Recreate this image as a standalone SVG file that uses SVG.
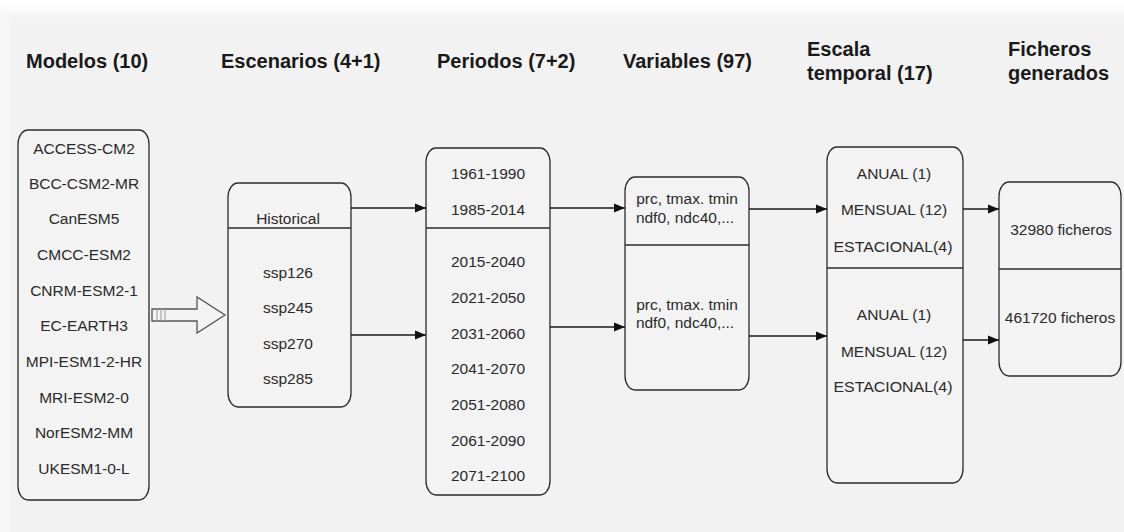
<svg xmlns="http://www.w3.org/2000/svg" width="1124" height="532" viewBox="0 0 1124 532">
  <defs>
    <linearGradient id="topFade" x1="0" y1="0" x2="0" y2="1">
      <stop offset="0" stop-color="#ffffff"/>
      <stop offset="0.6" stop-color="#fbfbfb"/>
      <stop offset="1" stop-color="#f2f2f2"/>
    </linearGradient>
    <marker id="arrow" markerUnits="userSpaceOnUse" markerWidth="11" markerHeight="10" refX="11" refY="5" orient="auto">
      <path d="M0,0.5 L11,5 L0,9.5 z" fill="#111"/>
    </marker>
    <style>
      .hdr { font-family: "Liberation Sans", Arial, sans-serif; font-weight: bold; font-size: 20px; fill: #1a1a1a; }
      .lbl { font-family: "Liberation Sans", Arial, sans-serif; font-size: 15.5px; fill: #2a2a2a; text-anchor: middle; }
      .box { fill: #f3f3f3; stroke: #2b2b2b; stroke-width: 1.3; }
      .div { stroke: #2b2b2b; stroke-width: 1.3; fill: none; }
      .edge { stroke: #1a1a1a; stroke-width: 1.3; fill: none; marker-end: url(#arrow); }
    </style>
  </defs>

  <!-- page background -->
  <rect x="0" y="0" width="1124" height="532" fill="#f2f2f2"/>
  <rect x="0" y="0" width="1124" height="18" fill="url(#topFade)"/>
  <rect x="0" y="14" width="11" height="518" fill="#f6f6f6"/>

  <!-- column headers -->
  <g id="headers">
    <text class="hdr" x="26" y="68">Modelos (10)</text>
    <text class="hdr" x="221" y="68">Escenarios (4+1)</text>
    <text class="hdr" x="437" y="68">Periodos (7+2)</text>
    <text class="hdr" x="623" y="68">Variables (97)</text>
    <text class="hdr" x="807" y="56">Escala</text>
    <text class="hdr" x="807" y="80">temporal (17)</text>
    <text class="hdr" x="1008" y="56">Ficheros</text>
    <text class="hdr" x="1008" y="80">generados</text>
  </g>

  <!-- models -->
  <g id="modelos">
    <rect class="box" x="18" y="130" width="131" height="370" rx="10" ry="14"/>
    <text class="lbl" x="84" y="154">ACCESS-CM2</text>
    <text class="lbl" x="84" y="189">BCC-CSM2-MR</text>
    <text class="lbl" x="84" y="224">CanESM5</text>
    <text class="lbl" x="84" y="260">CMCC-ESM2</text>
    <text class="lbl" x="84" y="296">CNRM-ESM2-1</text>
    <text class="lbl" x="84" y="331">EC-EARTH3</text>
    <text class="lbl" x="84" y="367">MPI-ESM1-2-HR</text>
    <text class="lbl" x="84" y="403">MRI-ESM2-0</text>
    <text class="lbl" x="84" y="438">NorESM2-MM</text>
    <text class="lbl" x="84" y="474">UKESM1-0-L</text>
  </g>

  <!-- hollow block arrow from models to scenarios -->
  <g id="flecha">
    <path d="M152,309 H197 V297 L225,315 L197,333 V321 H152 Z" fill="#f3f3f3" stroke="#555" stroke-width="1.3"/>
    <path d="M157,309 V321 M161,309 V321 M165,309 V321" stroke="#999" stroke-width="1"/>
  </g>

  <!-- scenarios -->
  <g id="escenarios">
    <rect class="box" x="228" y="183" width="123" height="224" rx="10" ry="14"/>
    <line class="div" x1="228" y1="228" x2="351" y2="228"/>
    <text class="lbl" x="288" y="224">Historical</text>
    <text class="lbl" x="288" y="278">ssp126</text>
    <text class="lbl" x="288" y="313">ssp245</text>
    <text class="lbl" x="288" y="349">ssp270</text>
    <text class="lbl" x="288" y="384">ssp285</text>
  </g>

  <!-- periods -->
  <g id="periodos">
    <rect class="box" x="426" y="148" width="124" height="347" rx="10" ry="14"/>
    <line class="div" x1="426" y1="228" x2="550" y2="228"/>
    <text class="lbl" x="488" y="179">1961-1990</text>
    <text class="lbl" x="488" y="215">1985-2014</text>
    <text class="lbl" x="488" y="267">2015-2040</text>
    <text class="lbl" x="488" y="303">2021-2050</text>
    <text class="lbl" x="488" y="339">2031-2060</text>
    <text class="lbl" x="488" y="374">2041-2070</text>
    <text class="lbl" x="488" y="410">2051-2080</text>
    <text class="lbl" x="488" y="446">2061-2090</text>
    <text class="lbl" x="488" y="481">2071-2100</text>
  </g>

  <!-- variables -->
  <g id="variables">
    <rect class="box" x="625" y="177" width="124" height="213" rx="10" ry="14"/>
    <line class="div" x1="625" y1="245" x2="749" y2="245"/>
    <text class="lbl" x="687" y="204">prc, tmax. tmin</text>
    <text class="lbl" x="685" y="223">ndf0, ndc40,...</text>
    <text class="lbl" x="687" y="310">prc, tmax. tmin</text>
    <text class="lbl" x="685" y="328">ndf0, ndc40,...</text>
  </g>

  <!-- time scale -->
  <g id="escala">
    <rect class="box" x="827" y="147" width="136" height="336" rx="10" ry="14"/>
    <line class="div" x1="827" y1="268" x2="963" y2="268"/>
    <text class="lbl" x="894" y="179">ANUAL (1)</text>
    <text class="lbl" x="894" y="215">MENSUAL (12)</text>
    <text class="lbl" x="893" y="252" textLength="119" lengthAdjust="spacingAndGlyphs">ESTACIONAL(4)</text>
    <text class="lbl" x="894" y="320">ANUAL (1)</text>
    <text class="lbl" x="894" y="357">MENSUAL (12)</text>
    <text class="lbl" x="893" y="392" textLength="119" lengthAdjust="spacingAndGlyphs">ESTACIONAL(4)</text>
  </g>

  <!-- generated files -->
  <g id="ficheros">
    <rect class="box" x="999" y="182" width="122" height="194" rx="10" ry="14"/>
    <line class="div" x1="999" y1="269" x2="1121" y2="269"/>
    <text class="lbl" x="1061" y="235">32980 ficheros</text>
    <text class="lbl" x="1060" y="323">461720 ficheros</text>
  </g>

  <!-- connectors -->
  <g id="connectors">
    <path class="edge" d="M351,208 H426"/>
    <path class="edge" d="M351,335 H426"/>
    <path class="edge" d="M550,208 H625"/>
    <path class="edge" d="M550,327 H625"/>
    <path class="edge" d="M749,209 H827"/>
    <path class="edge" d="M749,336 H827"/>
    <path class="edge" d="M963,209 H999"/>
    <path class="edge" d="M963,340 H999"/>
  </g>
</svg>
